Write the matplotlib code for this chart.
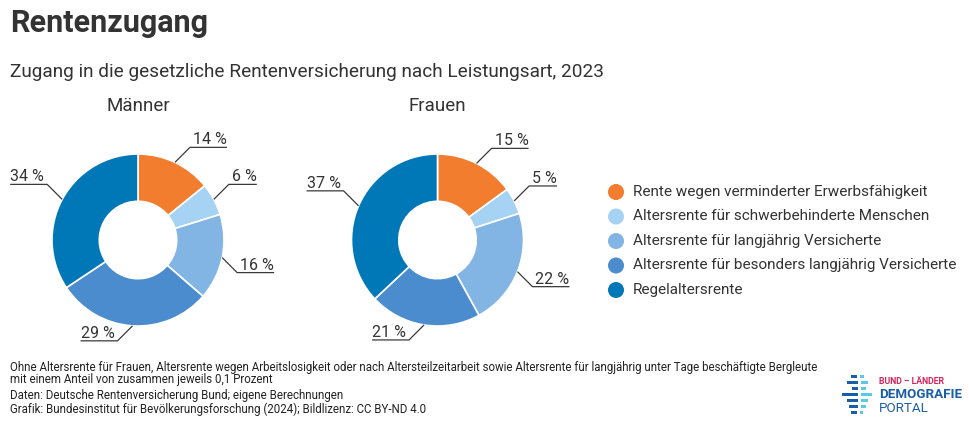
import matplotlib
matplotlib.use("Agg")
import matplotlib.pyplot as plt
from matplotlib import font_manager
from matplotlib.patches import Rectangle, Circle
import numpy as np

names = {f.name for f in font_manager.fontManager.ttflist}
NARROW = "Liberation Sans Narrow" if "Liberation Sans Narrow" in names else "Roboto"
MAIN = "Roboto"

# ---------------- data ----------------
categories = [
    "Rente wegen verminderter Erwerbsfähigkeit",
    "Altersrente für schwerbehinderte Menschen",
    "Altersrente für langjährig Versicherte",
    "Altersrente für besonders langjährig Versicherte",
    "Regelaltersrente",
]
maenner = [14, 6, 16, 29, 34]
frauen = [15, 5, 22, 21, 37]
groups = ["Männer", "Frauen"]
colors = ["#F27D2E", "#A6D2F3", "#82B4E4", "#4A8CCE", "#0077B6"]

title = "Rentenzugang"
subtitle = "Zugang in die gesetzliche Rentenversicherung nach Leistungsart, 2023"
notes = [
    "Ohne Altersrente für Frauen, Altersrente wegen Arbeitslosigkeit oder nach Altersteilzeitarbeit sowie Altersrente für langjährig unter Tage beschäftigte Bergleute",
    "mit einem Anteil von zusammen jeweils 0,1 Prozent",
    "Daten: Deutsche Rentenversicherung Bund; eigene Berechnungen",
    "Grafik: Bundesinstitut für Bevölkerungsforschung (2024); Bildlizenz: CC BY-ND 4.0",
]

W, H = 970, 425
fig = plt.figure(figsize=(W / 100, H / 100), dpi=100)
ax = fig.add_axes([0, 0, 1, 1])

def Y(ypx):
    return H - ypx

R = 86
centers = [(138, Y(240)), (437.5, Y(240))]
txt = "#333333"

for vals, (cx, cy), name in zip([maenner, frauen], centers, groups):
    ax.pie(vals, colors=colors, startangle=90, counterclock=False,
           center=(cx, cy), radius=R,
           wedgeprops=dict(width=R * 0.55, edgecolor="white", linewidth=1.2))
    ax.text(cx, Y(106), name, ha="center", va="center", fontsize=13.5,
            family=MAIN, color=txt)
    total = sum(vals)
    cum = 0
    for v in vals:
        mid = cum + v / 2
        cum += v
        th = np.deg2rad(90 - 360 * mid / total)
        x0, y0 = cx + R * np.cos(th), cy + R * np.sin(th)
        sx = 1 if np.cos(th) >= 0 else -1
        sy = 1 if np.sin(th) >= 0 else -1
        x1, y1 = x0 + 15 * sx, y0 + 15 * sy
        label = f"{v} %"
        L = 37 if v >= 10 else 28
        x2 = x1 + L * sx
        ax.plot([x0, x1, x2], [y0, y1, y1], color="#3a3a3a", lw=0.9,
                solid_capstyle="butt", zorder=5)
        ax.text(x2, y1 + 3, label, ha="right" if sx > 0 else "left",
                va="baseline", fontsize=11.5, family=NARROW, color=txt)

# legend
for i, (c, lab) in enumerate(zip(colors, categories)):
    yy = Y(192 + 24.5 * i)
    ax.add_patch(Circle((616, yy), 8, color=c, lw=0))
    ax.text(633, yy, lab, ha="left", va="center", fontsize=11,
            family=NARROW, color=txt)

# titles
ax.text(10, Y(23), title, ha="left", va="center", fontsize=22,
        family=MAIN, fontweight="bold", color=txt)
ax.text(10, Y(72), subtitle, ha="left", va="center", fontsize=13.7,
        family=MAIN, color=txt)

# notes
for yy, line in zip([368, 380, 395, 409], notes):
    ax.text(10, Y(yy), line, ha="left", va="center", fontsize=8.3,
            family=NARROW, color="#222222")

# logo
dark, light = "#1A5EA8", "#5BC8E6"
bars = [
    (376, 851, 857, 860, 864),
    (382, 847, 858, 861, 868),
    (388, 852, 858, 861, 866),
    (394, 842, 858, 861, 872),
    (400, 847, 858, 861, 868),
    (406, 849, 858, 861, 866),
    (412, 851, 857, 860, 863),
]
for yy, a0, a1, b0, b1 in bars:
    ax.add_patch(Rectangle((a0, Y(yy) - 1.5), a1 - a0, 3, color=dark, lw=0))
    ax.add_patch(Rectangle((b0, Y(yy) - 1.5), b1 - b0, 3, color=light, lw=0))
ax.text(879, Y(381), "BUND – LÄNDER", ha="left", va="center", fontsize=6.3,
        family=NARROW, fontweight="bold", color="#D7245B")
ax.text(879, Y(395), "DEMOGRAFIE", ha="left", va="center", fontsize=9.6,
        family=NARROW, fontweight="bold", color=dark)
ax.text(879, Y(409), "PORTAL", ha="left", va="center", fontsize=9.6,
        family=NARROW, color=dark)

ax.set_xlim(0, W)
ax.set_ylim(0, H)
ax.set_aspect("equal")
ax.set_position([0, 0, 1, 1])
ax.axis("off")

fig.savefig("out.png", dpi=100)
